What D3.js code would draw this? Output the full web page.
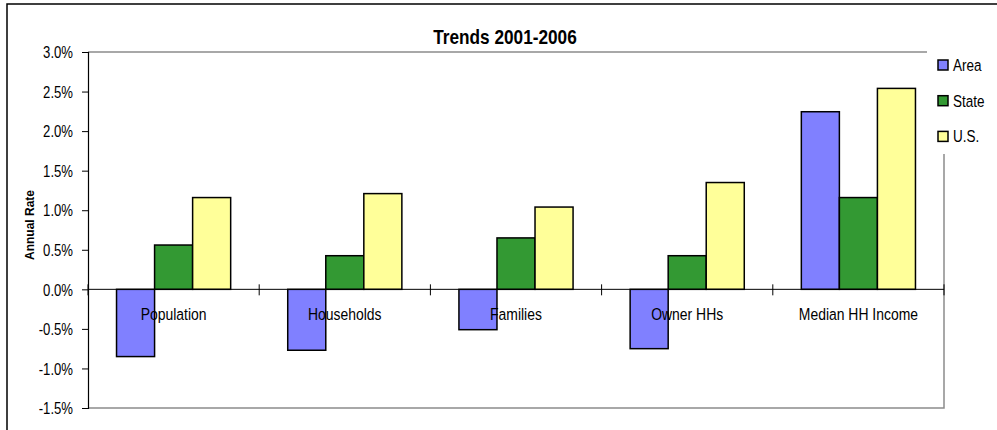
<!DOCTYPE html>
<html>
<head>
<meta charset="utf-8">
<script src="https://cdn.jsdelivr.net/npm/d3@7"></script>
<style>
  body { margin: 0; background: #fff; }
  text { font-family: "Liberation Sans", Arial, sans-serif; }
</style>
</head>
<body>
<div id="chart"></div>
<script>
// Chart values (annual rate, %)
const categories = ["Population", "Households", "Families", "Owner HHs", "Median HH Income"];
const seriesNames = ["Area", "State", "U.S."];
const areaValues = [-0.85, -0.77, -0.51, -0.75, 2.245];
const stateValues = [0.56, 0.425, 0.65, 0.425, 1.16];
const usValues = [1.16, 1.21, 1.04, 1.35, 2.54];
const yTicks = [-1.5, -1.0, -0.5, 0.0, 0.5, 1.0, 1.5, 2.0, 2.5, 3.0];
const colors = ["#8080ff", "#339933", "#ffff99"];

// text in the original looks horizontally narrowed
const sx = 0.82;

const W = 997, H = 430;
const margin = { top: 52, right: 53, bottom: 22, left: 88 },
    width = W - margin.left - margin.right,
    height = H - margin.top - margin.bottom;

const svg = d3.select("#chart")
    .append("svg")
    .attr("width", W)
    .attr("height", H);

// outer chart frame
svg.append("rect")
    .attr("x", 7).attr("y", 4)
    .attr("width", 1000).attr("height", 450)
    .attr("fill", "#fff")
    .attr("stroke", "#000")
    .attr("stroke-width", 1.5);

const g = svg.append("g")
    .attr("transform", "translate(" + margin.left + "," + margin.top + ")");

// scales
const x0 = d3.scaleBand().domain(categories).range([0, width]).padding(0);
const x1 = d3.scaleBand().domain(seriesNames).range([0, x0.bandwidth()])
    .paddingInner(0).paddingOuter(0.75);
const y = d3.scaleLinear().domain([-1.5, 3.0]).range([height, 0]);

// plot area border (gray)
g.append("path")
    .attr("d", "M0,0H" + width + "V" + height + "H0")
    .attr("fill", "none")
    .attr("stroke", "#8c8c8c")
    .attr("stroke-width", 1.5);

// y axis
const yAxis = g.append("g")
    .call(d3.axisLeft(y).tickValues(yTicks).tickSize(6).tickPadding(8)
        .tickFormat(d => d.toFixed(1) + "%"));
yAxis.select(".domain").attr("stroke", "#000").attr("stroke-width", 1.2);
yAxis.selectAll(".tick line").attr("stroke", "#000");
yAxis.selectAll("text")
    .attr("font-size", "16px")
    .attr("fill", "#000")
    .attr("font-family", "'Liberation Sans', Arial, sans-serif")
    .attr("x", -15 / sx)
    .attr("dy", "0.36em")
    .attr("transform", "scale(" + sx + ",1)");

// bars
const series = [areaValues, stateValues, usValues];
const rows = categories.map((c, i) => ({
    cat: c,
    vals: seriesNames.map((s, j) => ({ key: s, value: series[j][i], color: colors[j] }))
}));

const groups = g.selectAll(".grp")
    .data(rows)
    .enter().append("g")
    .attr("class", "grp")
    .attr("transform", d => "translate(" + x0(d.cat) + ",0)");

groups.selectAll("rect")
    .data(d => d.vals)
    .enter().append("rect")
    .attr("x", d => x1(d.key))
    .attr("width", x1.bandwidth())
    .attr("y", d => y(Math.max(0, d.value)))
    .attr("height", d => Math.abs(y(d.value) - y(0)))
    .attr("fill", d => d.color)
    .attr("stroke", "#000")
    .attr("stroke-width", 1.5);

// category axis on zero line
const xAxis = g.append("g")
    .attr("transform", "translate(0," + y(0) + ")");
xAxis.append("line")
    .attr("x1", 0).attr("x2", width)
    .attr("stroke", "#000").attr("stroke-width", 1);
const bounds = categories.map(c => x0(c)).concat([width]);
xAxis.selectAll(".ctick")
    .data(bounds)
    .enter().append("line")
    .attr("class", "ctick")
    .attr("x1", d => d).attr("x2", d => d)
    .attr("y1", -5).attr("y2", 6)
    .attr("stroke", "#000");
xAxis.selectAll(".clabel")
    .data(categories)
    .enter().append("text")
    .attr("class", "clabel")
    .attr("transform", d => "translate(" + (x0(d) + x0.bandwidth() / 2) + ",31) scale(" + sx + ",1)")
    .attr("text-anchor", "middle")
    .attr("font-size", "17px")
    .text(d => d);

// title
svg.append("text")
    .attr("transform", "translate(505,44) scale(" + sx + ",1)")
    .attr("text-anchor", "middle")
    .attr("font-size", "21px")
    .attr("font-weight", "bold")
    .text("Trends 2001-2006");

// y axis title
svg.append("text")
    .attr("transform", "translate(34," + (margin.top + height / 2 - 5) + ") rotate(-90)")
    .attr("text-anchor", "middle")
    .attr("font-size", "12px")
    .attr("font-weight", "bold")
    .text("Annual Rate");

// legend (white box covering plot border)
const legend = svg.append("g")
    .attr("transform", "translate(927,48)");
legend.append("rect")
    .attr("x", 0).attr("y", 0)
    .attr("width", 70).attr("height", 106)
    .attr("fill", "#fff");
const items = legend.selectAll(".item")
    .data(seriesNames)
    .enter().append("g")
    .attr("class", "item")
    .attr("transform", (d, i) => "translate(0," + (i * 35.7) + ")");
items.append("rect")
    .attr("x", 11).attr("y", 12)
    .attr("width", 10).attr("height", 10)
    .attr("fill", (d, i) => colors[i])
    .attr("stroke", "#000")
    .attr("stroke-width", 1.5);
items.append("text")
    .attr("transform", "translate(26,23) scale(" + sx + ",1)")
    .attr("font-size", "16.5px")
    .text(d => d);
</script>
</body>
</html>
